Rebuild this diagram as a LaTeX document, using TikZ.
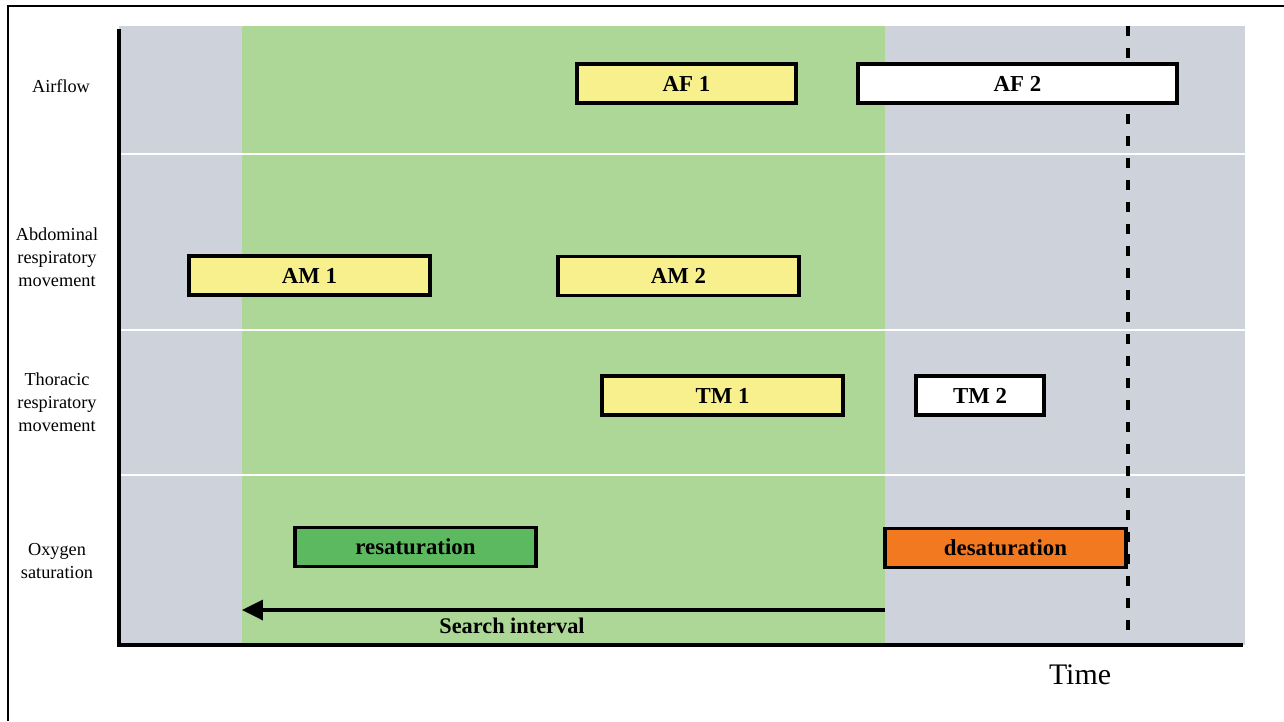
\documentclass[tikz,border=0pt]{standalone}
\usepackage{fontspec}
\setmainfont{Liberation Serif}
\usetikzlibrary{arrows.meta}

\definecolor{bggray}{RGB}{206,211,219}
\definecolor{bggreen}{RGB}{173,215,150}
\definecolor{baryellow}{RGB}{247,240,140}
\definecolor{bargreen}{RGB}{92,185,95}
\definecolor{barorange}{RGB}{242,121,32}

\tikzset{
  bar/.style={draw, line width=2pt, minimum height=0.78cm, inner sep=0pt,
    font=\fontsize{13}{15}\selectfont\bfseries},
  rowlabel/.style={align=center, font=\fontsize{10.4}{13}\selectfont}
}

\begin{document}
\begin{tikzpicture}[x=0.02cm,y=-0.02cm]
\useasboundingbox (0,0) rectangle (1284,721);
% outer frame
\path[draw,line width=1.2pt] (8,721) -- (8,6) -- (1284,6);

% background bands
\fill[bggray] (119,26) rectangle (1245,645);
\fill[bggreen] (242,26) rectangle (885,645);
\foreach \y in {154,330,475} \draw[white,line width=1pt] (119,\y) -- (1245,\y);

% axes
\path[draw,line width=2pt] (119,29) -- (119,645) -- (1243,645);

% row labels
\node[rowlabel] (lAF) at (61,86) {Airflow};
\node[rowlabel] (lAM) at (57,257) {Abdominal\\respiratory\\movement};
\node[rowlabel] (lTM) at (57,402) {Thoracic\\respiratory\\movement};
\node[rowlabel] (lOS) at (57,561) {Oxygen\\saturation};

% dashed time mark
\path[draw,line width=2pt,dash pattern=on 0.2cm off 0.24cm] (1128,26) -- (1128,635);

% events
\node[bar, fill=baryellow, minimum width=4.38cm] (AF1) at (686.5,83.5) {AF 1};
\node[bar, fill=white, minimum width=6.38cm] (AF2) at (1017.5,83.5) {AF 2};
\node[bar, fill=baryellow, minimum width=4.82cm] (AM1) at (309.5,275.5) {AM 1};
\node[bar, fill=baryellow, minimum width=4.82cm] (AM2) at (678.5,276) {AM 2};
\node[bar, fill=baryellow, minimum width=4.82cm] (TM1) at (722.5,395.5) {TM 1};
\node[bar, fill=white, minimum width=2.56cm] (TM2) at (980,395.5) {TM 2};
\node[bar, fill=bargreen, minimum width=4.82cm] (resat) at (415.5,547) {resaturation};
\node[bar, fill=barorange, minimum width=4.82cm] (desat) at (1005.5,548) {desaturation};

% search interval
\coordinate (sR) at (885,610);
\coordinate (sL) at (242,610);
\path[draw,line width=2pt,-{Triangle[length=0.42cm,width=0.4cm]}] (sR) -- (sL);
\node[font=\fontsize{12.7}{15}\selectfont\bfseries] (search) at (512,626) {Search interval};

\node[font=\fontsize{17}{20}\selectfont] (time) at (1080,675) {Time};
\end{tikzpicture}
\end{document}
